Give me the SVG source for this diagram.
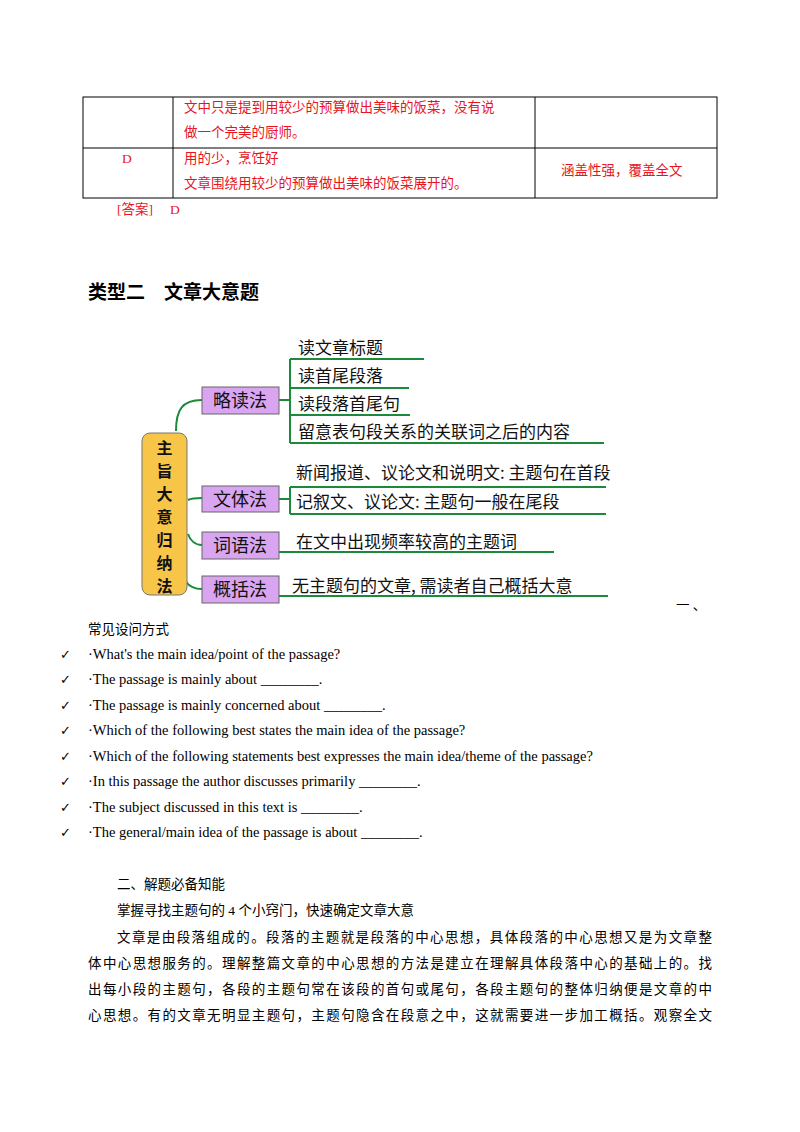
<svg xmlns="http://www.w3.org/2000/svg" width="800" height="1132" viewBox="0 0 800 1132">
<style>
.t{font-family:"Liberation Serif","Noto Sans CJK SC",serif;font-size:13.5px;fill:#000}
.e{font-family:"Liberation Serif",serif;font-size:14.5px;fill:#000}
.r{font-family:"Liberation Serif","Noto Sans CJK SC",serif;font-size:13.5px;fill:#e8141e}
.b{fill:#d9a5f0;stroke:#666;stroke-width:1}
.bt{font-family:"Noto Sans CJK SC",sans-serif;font-size:18px;fill:#111}
.rt{font-family:"Noto Sans CJK SC",sans-serif;font-size:16px;font-weight:bold;fill:#111}
.mt{font-family:"Noto Sans CJK SC",sans-serif;font-size:17px;fill:#111}
.g{stroke:#1b8a3a;stroke-width:2;fill:none}
.c{font-family:"DejaVu Sans",sans-serif;font-size:13px}
</style>
<rect width="800" height="1132" fill="#fff"/>
<g id="table" stroke="#000" stroke-width="1" fill="none">
<rect x="83" y="97" width="634" height="101"/>
<line x1="83" y1="148" x2="717" y2="148"/>
<line x1="173" y1="97" x2="173" y2="198"/>
<line x1="535" y1="97" x2="535" y2="198"/>
</g>
<text class="r" x="184" y="112">文中只是提到用较少的预算做出美味的饭菜，没有说</text>
<text class="r" x="184" y="137">做一个完美的厨师。</text>
<text class="r" x="122" y="163">D</text>
<text class="r" x="184" y="163">用的少，烹饪好</text>
<text class="r" x="184" y="188">文章围绕用较少的预算做出美味的饭菜展开的。</text>
<text class="r" x="561" y="175">涵盖性强，覆盖全文</text>
<text class="r" x="117" y="214">[答案]</text>
<text class="r" x="170" y="214">D</text>
<text x="88" y="299" style="font-family:'Noto Sans CJK SC',sans-serif;font-size:19px;font-weight:bold">类型二　文章大意题</text>
<g id="connectors">
<path class="g" d="M176 431 C176 410 182 400 202 400"/>
<path class="g" d="M188 500 C192 498 196 498 202 498"/>
<path class="g" d="M188 534 C190 540 195 545 202 545"/>
<path class="g" d="M182 558 C180 580 188 589 202 589"/>
<path class="g" d="M279 400 H290 M290 359 V443 M290 359 H424 M290 388 H409 M290 415 H410 M290 443 H604"/>
<path class="g" d="M279 499 H290 M290 487 V514 M290 487 H606 M290 514 H606"/>
<path class="g" d="M279 552 H554"/>
<path class="g" d="M279 596 H608"/>
</g>
<g id="root"><rect x="142" y="433" width="45" height="162" rx="8" fill="#f7c548" stroke="#777"/>
<text class="rt" x="156.5" y="454" style="font-size:16px">主</text>
<text class="rt" x="156.5" y="477" style="font-size:16px">旨</text>
<text class="rt" x="156.5" y="500" style="font-size:16px">大</text>
<text class="rt" x="156.5" y="523" style="font-size:16px">意</text>
<text class="rt" x="156.5" y="546" style="font-size:16px">归</text>
<text class="rt" x="156.5" y="569" style="font-size:16px">纳</text>
<text class="rt" x="156.5" y="592" style="font-size:16px">法</text></g>
<g id="n1"><rect class="b" x="202" y="387" width="77" height="27"/><text class="bt" x="213" y="407">略读法</text></g>
<g id="n2"><rect class="b" x="202" y="486" width="77" height="26"/><text class="bt" x="213" y="506">文体法</text></g>
<g id="n3"><rect class="b" x="202" y="532" width="77" height="27"/><text class="bt" x="213" y="552">词语法</text></g>
<g id="n4"><rect class="b" x="202" y="576" width="77" height="27"/><text class="bt" x="213" y="596">概括法</text></g>
<text class="mt" x="298" y="354">读文章标题</text>
<text class="mt" x="298" y="382">读首尾段落</text>
<text class="mt" x="298" y="410">读段落首尾句</text>
<text class="mt" x="298" y="438">留意表句段关系的关联词之后的内容</text>
<text class="mt" x="296" y="479">新闻报道、议论文和说明文: 主题句在首段</text>
<text class="mt" x="296" y="508">记叙文、议论文: 主题句一般在尾段</text>
<text class="mt" x="296" y="548">在文中出现频率较高的主题词</text>
<text class="mt" x="292" y="592">无主题句的文章, 需读者自己概括大意</text>
<text class="t" x="676" y="610">一  、</text>
<text class="t" x="88" y="634">常见设问方式</text>
<g>
<text class="c" x="60" y="659">✓</text><text class="e" x="88" y="659">·What's the main idea/point of the passage?</text>
<text class="c" x="60" y="684">✓</text><text class="e" x="88" y="684">·The passage is mainly about ________.</text>
<text class="c" x="60" y="710">✓</text><text class="e" x="88" y="710">·The passage is mainly concerned about ________.</text>
<text class="c" x="60" y="735">✓</text><text class="e" x="88" y="735">·Which of the following best states the main idea of the passage?</text>
<text class="c" x="60" y="761">✓</text><text class="e" x="88" y="761">·Which of the following statements best expresses the main idea/theme of the passage?</text>
<text class="c" x="60" y="786">✓</text><text class="e" x="88" y="786">·In this passage the author discusses primarily ________.</text>
<text class="c" x="60" y="812">✓</text><text class="e" x="88" y="812">·The subject discussed in this text is ________.</text>
<text class="c" x="60" y="837">✓</text><text class="e" x="88" y="837">·The general/main idea of the passage is about ________.</text>
</g>
<text class="t" x="117" y="889">二、解题必备知能</text>
<text class="t" x="117" y="915">掌握寻找主题句的 4 个小窍门，快速确定文章大意</text>
<text class="t" x="117" y="942" textLength="595">文章是由段落组成的。段落的主题就是段落的中心思想，具体段落的中心思想又是为文章整</text>
<text class="t" x="88" y="968" textLength="624">体中心思想服务的。理解整篇文章的中心思想的方法是建立在理解具体段落中心的基础上的。找</text>
<text class="t" x="88" y="994" textLength="624">出每小段的主题句，各段的主题句常在该段的首句或尾句，各段主题句的整体归纳便是文章的中</text>
<text class="t" x="88" y="1020" textLength="624">心思想。有的文章无明显主题句，主题句隐含在段意之中，这就需要进一步加工概括。观察全文</text>
</svg>
